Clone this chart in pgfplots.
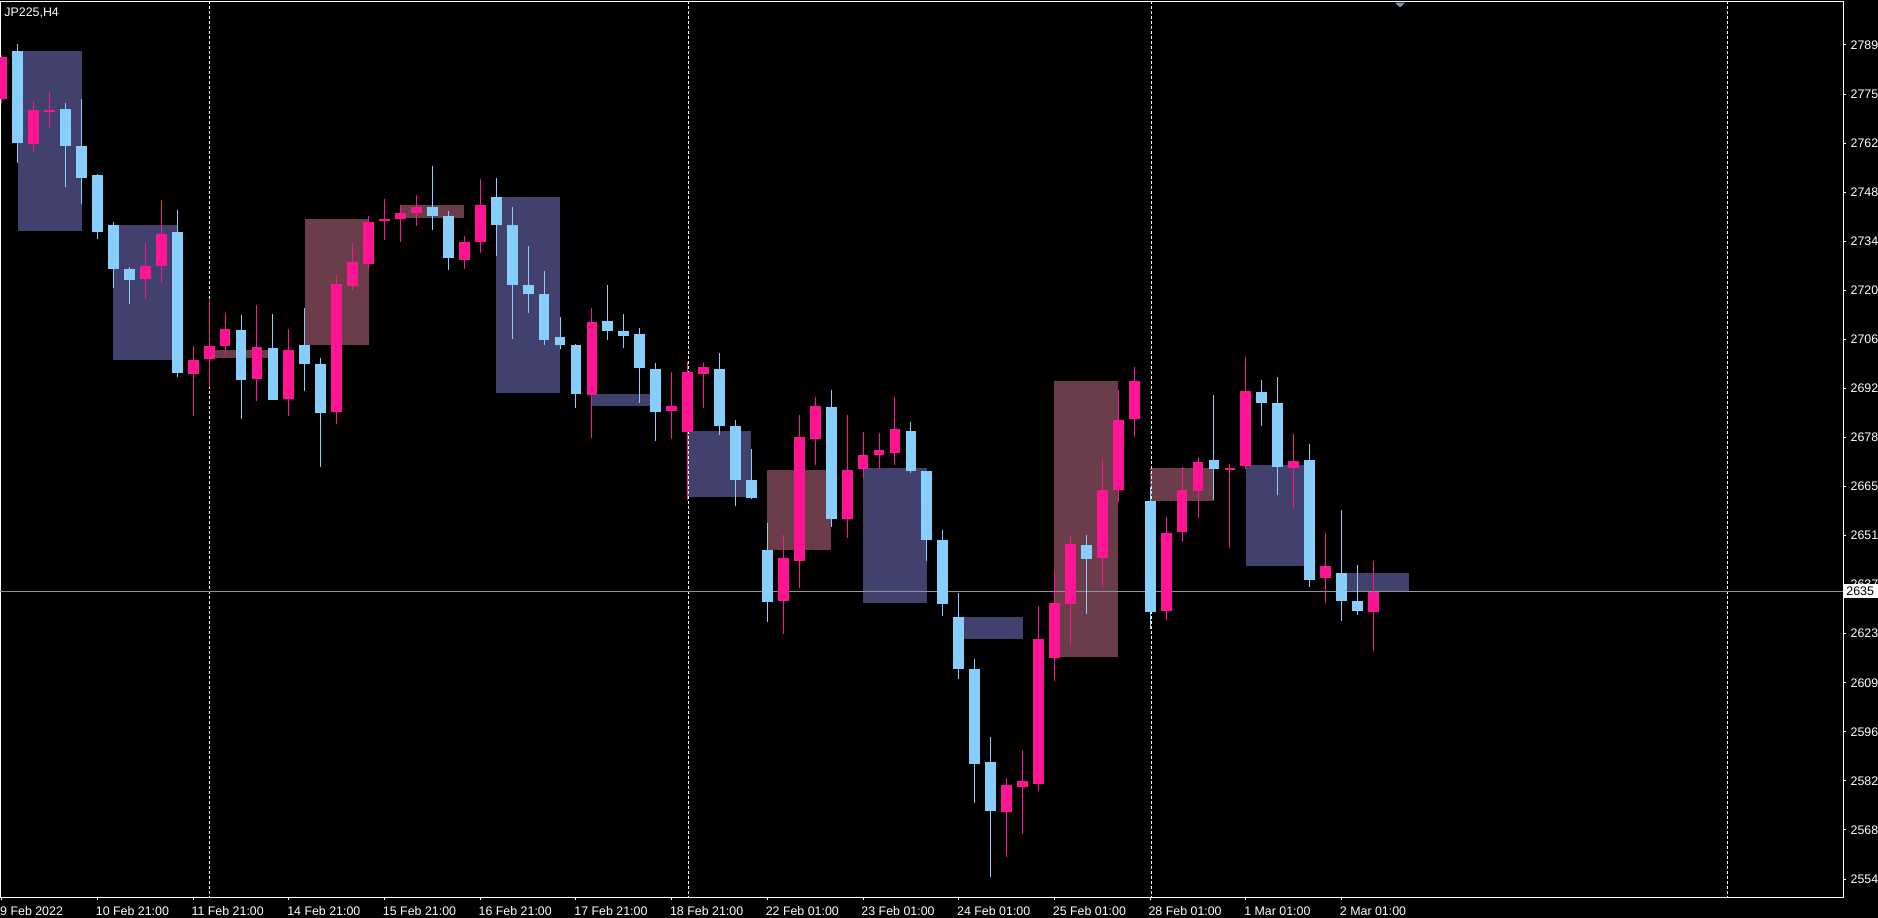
\documentclass[border=0pt]{standalone}
\usepackage{pgfplots}
\usepackage{pgfplotstable}
\pgfplotsset{compat=1.18}
\usepackage{fontspec}
\setmainfont{Liberation Sans}
\definecolor{bull}{HTML}{FF1493}
\definecolor{bear}{HTML}{87CEFA}
\definecolor{boxb}{HTML}{42416E}
\definecolor{boxr}{HTML}{6B3C4A}
\definecolor{pline}{HTML}{8A94A0}
\definecolor{tri}{HTML}{8096AA}

\pgfplotstableread{
k o h l c
0 2773.7 2786.1 2772.6 2785.6
2 2761.1 2773.2 2758.9 2770.6
3 2770.4 2775.7 2765.6 2770.4
9 2723.1 2733.2 2717.5 2726.8
10 2726.8 2745.3 2722.0 2735.7
12 2696.3 2704.1 2684.5 2700.2
13 2700.6 2717.1 2692.7 2704.1
14 2704.2 2713.4 2701.7 2708.9
16 2694.9 2715.7 2688.7 2703.9
18 2689.3 2708.9 2684.5 2703.0
21 2685.6 2724.1 2682.3 2721.6
22 2721.1 2733.2 2720.0 2727.8
23 2727.3 2740.8 2725.8 2739.1
24 2739.7 2745.6 2734.1 2739.7
25 2740.0 2743.9 2733.5 2741.6
26 2741.7 2746.7 2738.0 2743.3
29 2728.5 2735.1 2725.9 2733.4
30 2733.5 2751.2 2730.4 2743.9
37 2690.4 2714.9 2678.3 2710.9
42 2685.9 2696.8 2678.0 2687.2
43 2680.0 2699.6 2660.8 2696.8
44 2696.3 2699.4 2686.8 2698.2
49 2632.4 2650.9 2623.1 2644.4
50 2643.6 2684.7 2636.1 2678.5
51 2678.0 2689.8 2670.7 2687.2
53 2655.5 2684.7 2650.1 2669.2
54 2669.6 2679.9 2667.0 2673.4
55 2673.5 2679.6 2669.6 2674.8
56 2674.1 2689.8 2670.7 2680.8
63 2573.0 2582.5 2560.3 2580.5
64 2580.0 2590.3 2566.8 2581.6
65 2580.8 2630.9 2578.9 2621.6
66 2616.3 2640.5 2609.9 2631.7
67 2631.6 2650.9 2620.0 2648.4
69 2644.5 2672.3 2636.3 2663.6
70 2663.7 2691.8 2660.3 2683.3
71 2683.7 2698.2 2678.6 2694.3
73 2629.6 2656.0 2627.0 2651.5
74 2651.8 2670.1 2649.0 2663.6
75 2663.4 2672.9 2655.8 2671.5
77 2669.6 2670.9 2647.3 2669.6
78 2670.4 2701.0 2669.6 2691.5
81 2669.9 2679.4 2658.6 2671.8
83 2638.9 2651.5 2631.8 2642.2
86 2629.3 2643.6 2618.3 2635.0
}\bulltab

\pgfplotstableread{
k o h l c
1 2787.2 2789.2 2755.7 2761.4
4 2770.9 2772.6 2749.0 2760.6
5 2760.5 2773.7 2744.2 2751.6
6 2752.3 2752.6 2734.2 2736.3
7 2738.2 2739.2 2720.6 2725.9
8 2725.8 2726.5 2716.1 2722.8
11 2736.3 2742.5 2695.5 2696.6
15 2708.7 2712.9 2683.6 2694.7
17 2703.6 2713.2 2689.0 2689.0
19 2704.4 2714.9 2691.6 2699.2
20 2699.1 2700.8 2670.1 2685.4
27 2743.3 2754.9 2736.8 2740.9
28 2740.8 2742.2 2725.6 2729.0
31 2746.1 2751.5 2729.6 2738.3
32 2738.2 2743.3 2706.2 2721.4
33 2721.3 2732.3 2713.5 2718.9
34 2718.8 2725.3 2704.5 2705.9
35 2706.7 2712.3 2703.4 2704.5
36 2704.4 2704.7 2686.8 2690.7
38 2711.2 2721.3 2705.9 2708.5
39 2708.4 2713.2 2703.7 2707.0
40 2707.5 2709.2 2688.2 2698.0
41 2697.7 2699.4 2677.5 2685.6
45 2697.7 2702.2 2679.2 2681.7
46 2681.6 2683.3 2659.2 2666.5
47 2666.4 2675.1 2661.0 2661.4
48 2646.7 2654.3 2626.5 2632.1
52 2687.0 2691.8 2653.2 2655.5
57 2680.2 2682.7 2668.5 2669.0
58 2668.9 2668.9 2643.7 2649.6
59 2649.5 2652.3 2628.2 2631.6
60 2627.8 2634.6 2610.4 2613.2
61 2613.2 2616.0 2575.5 2586.5
62 2587.0 2594.0 2554.6 2573.2
68 2648.1 2650.9 2628.7 2644.2
72 2660.5 2664.4 2624.5 2629.3
76 2672.0 2690.3 2660.8 2669.6
79 2691.2 2694.6 2681.7 2688.2
80 2688.1 2695.4 2662.3 2670.1
82 2672.0 2676.5 2636.3 2638.3
84 2640.2 2657.9 2626.8 2632.4
85 2632.3 2642.5 2628.5 2629.6
}\beartab

\pgfplotsset{candle/.style={only marks, mark=*, mark size=0pt, mark options={draw=none, fill=none},
  error bars/y dir=both, error bars/y explicit, error bars/error mark=none}}

\begin{document}
\begin{tikzpicture}[x=1pt,y=1pt]
\useasboundingbox (0,0.5) rectangle (939,-458);
\fill[black] (-1,1) rectangle (940,-459);
\begin{axis}[
  at={(0,0)}, anchor=north west,
  scale only axis, width=921.5pt, height=448pt,
  xmin=-0.113, xmax=115.44, ymin=2548.93, ymax=2801.33,
  axis line style={white, line width=0.5pt},
  tick style={white, line width=0.5pt},
  tick align=outside, major tick length=1.6pt,
  xtick pos=bottom, ytick pos=right, yticklabel pos=right,
  xtick={0,6,...,84},
  xticklabels={9 Feb 2022, 10 Feb 21:00, 11 Feb 21:00, 14 Feb 21:00, 15 Feb 21:00, 16 Feb 21:00, 17 Feb 21:00, 18 Feb 21:00, 22 Feb 01:00, 23 Feb 01:00, 24 Feb 01:00, 25 Feb 01:00, 28 Feb 01:00, 1 Mar 01:00, 2 Mar 01:00},
  ytick={2554, 2567.82, 2581.64, 2595.46, 2609.28, 2623.1, 2636.92, 2650.74, 2664.56, 2678.38, 2692.2, 2706.02, 2719.84, 2733.66, 2747.48, 2761.3, 2775.12, 2788.94},
  yticklabels={2554, 2568, 2582, 2596, 2609, 2623, 2637, 2651, 2665, 2678, 2692, 2706, 2720, 2734, 2748, 2762, 2775, 2789},
  x tick label style={font=\fontsize{6.2}{7}\selectfont, text=white, anchor=north west, inner sep=0pt, xshift=-1pt, yshift=-3pt},
  y tick label style={font=\fontsize{6.2}{7}\selectfont, text=white, anchor=west, inner sep=0pt, xshift=2pt},
]
% day boxes
\addplot[fill=boxb, draw=none] coordinates {(1,2787.24)(5,2787.24)(5,2736.62)(1,2736.62)};
\addplot[fill=boxb, draw=none] coordinates {(7,2738.23)(11,2738.23)(11,2700.28)(7,2700.28)};
\addplot[fill=boxr, draw=none] coordinates {(13,2703.01)(17,2703.01)(17,2700.85)(13,2700.85)};
\addplot[fill=boxr, draw=none] coordinates {(19,2739.92)(23,2739.92)(23,2704.42)(19,2704.42)};
\addplot[fill=boxr, draw=none] coordinates {(25,2743.86)(29,2743.86)(29,2740.20)(25,2740.20)};
\addplot[fill=boxb, draw=none] coordinates {(31,2746.12)(35,2746.12)(35,2690.90)(31,2690.90)};
\addplot[fill=boxb, draw=none] coordinates {(37,2690.62)(41,2690.62)(41,2687.24)(37,2687.24)};
\addplot[fill=boxb, draw=none] coordinates {(43,2680.20)(47,2680.20)(47,2661.61)(43,2661.61)};
\addplot[fill=boxr, draw=none] coordinates {(48,2669.21)(52,2669.21)(52,2646.67)(48,2646.67)};
\addplot[fill=boxb, draw=none] coordinates {(54,2669.77)(58,2669.77)(58,2631.74)(54,2631.74)};
\addplot[fill=boxb, draw=none] coordinates {(60,2627.80)(64,2627.80)(64,2621.60)(60,2621.60)};
\addplot[fill=boxr, draw=none] coordinates {(66,2694.28)(70,2694.28)(70,2616.53)(66,2616.53)};
\addplot[fill=boxr, draw=none] coordinates {(72,2669.77)(76,2669.77)(76,2660.48)(72,2660.48)};
\addplot[fill=boxb, draw=none] coordinates {(78,2670.62)(82,2670.62)(82,2642.17)(78,2642.17)};
\addplot[fill=boxb, draw=none] coordinates {(84,2640.20)(88.2,2640.20)(88.2,2635.21)(84,2635.21)};
% period separators
\addplot[white, line width=0.5pt, dash pattern=on 1.5pt off 1pt] coordinates {(13,2540)(13,2810)};
\addplot[white, line width=0.5pt, dash pattern=on 1.5pt off 1pt] coordinates {(43.05,2540)(43.05,2810)};
\addplot[white, line width=0.5pt, dash pattern=on 1.5pt off 1pt] coordinates {(72.1,2540)(72.1,2810)};
\addplot[white, line width=0.5pt, dash pattern=on 1.5pt off 1pt] coordinates {(108.2,2540)(108.2,2810)};
% current price line
\addplot[pline, line width=0.5pt] coordinates {(-1,2635.0)(117,2635.0)};
% wicks
\addplot[candle, error bars/error bar style={bull, line width=0.5pt}]
  table[x=k, y expr={(\thisrow{h}+\thisrow{l})/2}, y error expr={(\thisrow{h}-\thisrow{l})/2}] {\bulltab};
\addplot[candle, error bars/error bar style={bear, line width=0.5pt}]
  table[x=k, y expr={(\thisrow{h}+\thisrow{l})/2}, y error expr={(\thisrow{h}-\thisrow{l})/2}] {\beartab};
% bodies
\addplot[candle, error bars/error bar style={bull, line width=5.4pt}]
  table[x=k, y expr={(\thisrow{o}+\thisrow{c})/2}, y error expr={max(abs(\thisrow{c}-\thisrow{o})/2,0.14)}] {\bulltab};
\addplot[candle, error bars/error bar style={bear, line width=5.4pt}]
  table[x=k, y expr={(\thisrow{o}+\thisrow{c})/2}, y error expr={max(abs(\thisrow{c}-\thisrow{o})/2,0.14)}] {\beartab};
\coordinate (plab) at (axis cs:115.44,2635.0);
\end{axis}
\node[anchor=west, fill=white, text=black, inner xsep=1pt, inner ysep=1pt, minimum height=7pt, text width=16pt, font=\fontsize{6.2}{7}\selectfont] at ([xshift=0.5pt]plab) {2635};
\fill[tri] (697.5,-0.85) -- (702.5,-0.85) -- (700,-3.2) -- cycle;
\node[anchor=north west, inner sep=0pt, text=white, font=\fontsize{6.2}{7}\selectfont] at (2,-3.3) {JP225,H4};
\end{tikzpicture}
\end{document}
